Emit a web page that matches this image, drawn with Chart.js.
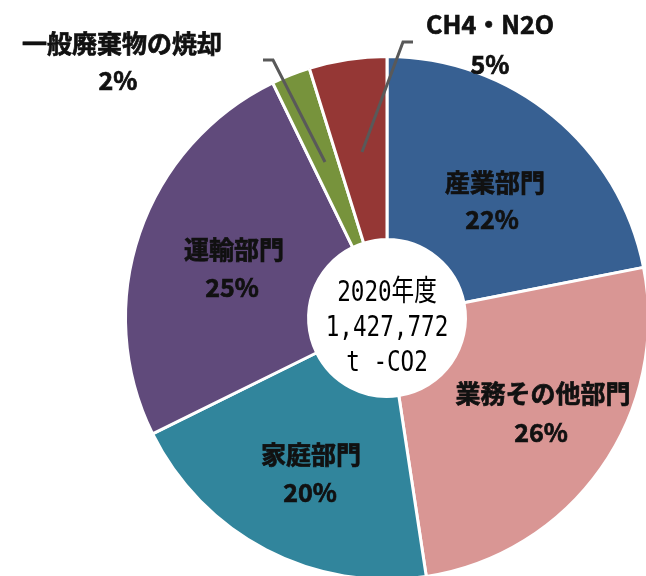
<!DOCTYPE html>
<html>
<head>
<meta charset="utf-8">
<script src="https://cdn.jsdelivr.net/npm/chart.js@4.4.1/dist/chart.umd.min.js"></script>
<style>
  html, body { margin: 0; padding: 0; background: #fff; overflow: hidden; }
  #wrap { position: absolute; left: 0; top: 0; width: 660px; height: 600px; }
</style>
</head>
<body>
<div id="wrap"><canvas id="chartCo2"></canvas></div>
<script>
const sectors = ["産業部門", "業務その他部門", "家庭部門", "運輸部門", "一般廃棄物の焼却", "CH4・N2O"];
const shares = [21.9, 25.7, 20.1, 25.1, 2.4, 4.8];
const colors = ["#376092", "#D99694", "#31859C", "#604A7B", "#77933C", "#953735"];
const centerLines = ["2020年度", "1,427,772", "t -CO2"];

// label anchor positions (name line, percent line)
const labelPos = [
  [495, 182, 492, 219],
  [543, 393, 541, 432],
  [311, 454, 310, 492],
  [234, 249, 232, 287],
  [122, 43, 118, 80],
  [490, 24, 490, 64],
];
// leader lines for the small slices
const leaders = {
  4: [[263, 60], [273, 60], [325, 162]],
  5: [[413, 42], [403, 42], [362, 152]],
};

const labelPlugin = {
  id: "labels",
  afterDraw(chart) {
    const ctx = chart.ctx;
    ctx.save();
    ctx.strokeStyle = "#595959";
    ctx.lineWidth = 3;
    Object.values(leaders).forEach((pts) => {
      ctx.beginPath();
      ctx.moveTo(pts[0][0], pts[0][1]);
      for (let i = 1; i < pts.length; i++) ctx.lineTo(pts[i][0], pts[i][1]);
      ctx.stroke();
    });

    ctx.fillStyle = "#111";
    ctx.strokeStyle = "#111";
    ctx.lineWidth = 0.7;
    ctx.textAlign = "center";
    ctx.textBaseline = "middle";
    ctx.font = "bold 25px 'Noto Sans CJK JP'";
    sectors.forEach((name, i) => {
      const p = labelPos[i];
      const pct = Math.round(shares[i]) + "%";
      ctx.fillText(name, p[0], p[1]);
      ctx.strokeText(name, p[0], p[1]);
      ctx.fillText(pct, p[2], p[3]);
      ctx.strokeText(pct, p[2], p[3]);
    });

    // centre text, narrow gothic look
    const meta = chart.getDatasetMeta(0).data[0];
    const cx = meta.x, cy = meta.y;
    ctx.fillStyle = "#000";
    ctx.font = "29px 'DejaVu Sans Mono', 'Noto Sans CJK JP'";
    const ys = [cy - 25, cy + 10, cy + 45];
    centerLines.forEach((t, i) => {
      ctx.save();
      ctx.translate(cx, ys[i]);
      ctx.scale(0.78, 1);
      ctx.fillText(t, 0, 0);
      ctx.restore();
    });
    ctx.restore();
  },
};

new Chart(document.getElementById("chartCo2"), {
  type: "doughnut",
  data: {
    labels: sectors,
    datasets: [
      {
        data: shares,
        backgroundColor: colors,
        borderColor: "#ffffff",
        borderWidth: 3,
      },
    ],
  },
  options: {
    responsive: true,
    maintainAspectRatio: false,
    animation: false,
    cutout: "30%",
    rotation: 0,
    layout: { padding: { left: 124, right: 10, top: 55, bottom: 19 } },
    plugins: {
      legend: { display: false },
      tooltip: { enabled: false },
    },
  },
  plugins: [labelPlugin],
});
</script>
</body>
</html>
